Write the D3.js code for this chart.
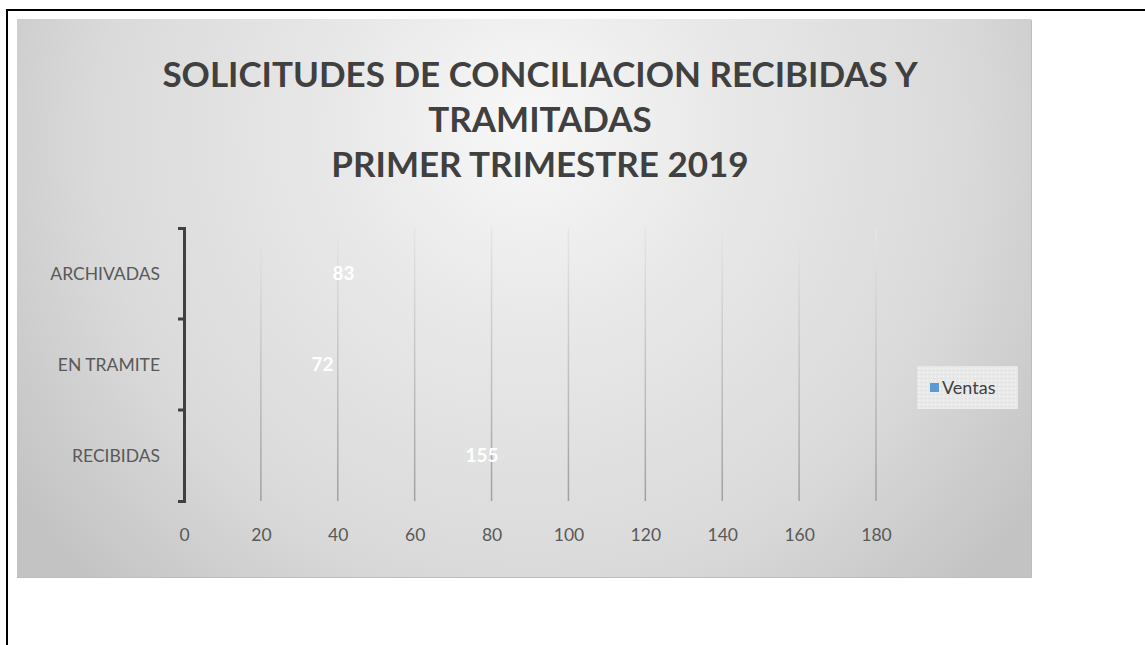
<!DOCTYPE html>
<html>
<head>
<meta charset="utf-8">
<script src="https://cdn.jsdelivr.net/npm/d3@7"></script>
<style>
  html, body { margin: 0; padding: 0; background: #fff; }
  svg { display: block; }
</style>
</head>
<body>
<svg id="chart" width="1145" height="645"></svg>
<script>
// data
const categories = ["RECIBIDAS", "EN TRAMITE", "ARCHIVADAS"];
const values = [155, 72, 83];
const xTicks = [0, 20, 40, 60, 80, 100, 120, 140, 160, 180];
const titleLines = ["SOLICITUDES DE CONCILIACION RECIBIDAS Y", "TRAMITADAS", "PRIMER TRIMESTRE 2019"];
const seriesName = "Ventas";

const FONT = "Lato, 'Open Sans', sans-serif";
const svg = d3.select("#chart");
const defs = svg.append("defs");

// page frame
svg.append("path")
  .attr("d", "M7,1200 L7,10 L1200,10")
  .attr("fill", "none")
  .attr("stroke", "#000")
  .attr("stroke-width", 2);

// panel background
const bg = defs.append("radialGradient")
  .attr("id", "panelGrad")
  .attr("gradientUnits", "userSpaceOnUse")
  .attr("cx", 530).attr("cy", 150).attr("r", 620)
  .attr("fx", 530).attr("fy", 120);
bg.append("stop").attr("offset", "0%").attr("stop-color", "#f8f8f8");
bg.append("stop").attr("offset", "30%").attr("stop-color", "#e9e9e9");
bg.append("stop").attr("offset", "70%").attr("stop-color", "#dadada");
bg.append("stop").attr("offset", "100%").attr("stop-color", "#c3c3c3");

const panel = { x: 17, y: 19, w: 1014, h: 558 };
svg.append("rect")
  .attr("x", panel.x).attr("y", panel.y + 1)
  .attr("width", panel.w + 1).attr("height", panel.h)
  .attr("fill", "#bdbdbd");
svg.append("rect")
  .attr("x", panel.x).attr("y", panel.y)
  .attr("width", panel.w).attr("height", panel.h)
  .attr("fill", "url(#panelGrad)");

// title
const title = svg.append("text")
  .attr("text-anchor", "middle")
  .attr("font-family", FONT)
  .attr("font-weight", "bold")
  .attr("font-size", 35)
  .attr("fill", "#404040");
titleLines.forEach((t, i) => {
  title.append("tspan").attr("x", 540).attr("y", 87 + i * 45).text(t);
});

// scales
const margin = { left: 184, right: 876, top: 228, bottom: 501 };
const x = d3.scaleLinear().domain([0, 180]).range([margin.left, margin.right]);
const y = d3.scaleBand().domain(categories).range([margin.bottom, margin.top]).paddingInner(0.5).paddingOuter(0.25);
const yBand = d3.scaleBand().domain(categories).range([margin.bottom, margin.top]);

// gridlines
const gridGrad = defs.append("linearGradient")
  .attr("id", "gridGrad")
  .attr("gradientUnits", "userSpaceOnUse")
  .attr("x1", 0).attr("y1", margin.top).attr("x2", 0).attr("y2", margin.bottom);
gridGrad.append("stop").attr("offset", "0%").attr("stop-color", "#e6e6e6");
gridGrad.append("stop").attr("offset", "100%").attr("stop-color", "#a0a0a0");

svg.append("g")
  .selectAll("rect")
  .data(xTicks.slice(1))
  .join("rect")
  .attr("x", d => x(d) - 0.75)
  .attr("y", margin.top)
  .attr("width", 1.5)
  .attr("height", margin.bottom - margin.top)
  .attr("fill", "url(#gridGrad)");

// bars (no visible fill in the original)
svg.append("g")
  .selectAll("rect")
  .data(values)
  .join("rect")
  .attr("x", x(0))
  .attr("y", (d, i) => y(categories[i]))
  .attr("width", d => x(d) - x(0))
  .attr("height", y.bandwidth())
  .attr("fill", "#ffffff")
  .attr("fill-opacity", 0);

// data labels
svg.append("g")
  .selectAll("text")
  .data(values)
  .join("text")
  .attr("x", d => x(d / 2))
  .attr("y", (d, i) => yBand(categories[i]) + yBand.bandwidth() / 2)
  .attr("dy", "0.35em")
  .attr("text-anchor", "middle")
  .attr("font-family", FONT)
  .attr("font-weight", "bold")
  .attr("font-size", 19)
  .attr("fill", "#ffffff")
  .text(d => d);

// y axis
const yAxis = svg.append("g")
  .attr("transform", `translate(${margin.left},0)`)
  .call(d3.axisLeft(yBand).tickValues([]).tickSizeOuter(6));
yAxis.select(".domain").attr("stroke", "#404040").attr("stroke-width", 3);
yAxis.selectAll(".tick").remove();
svg.append("g")
  .selectAll("line")
  .data(yBand.domain().slice(1))
  .join("line")
  .attr("x1", margin.left - 6).attr("x2", margin.left)
  .attr("y1", d => yBand(d) + yBand.bandwidth())
  .attr("y2", d => yBand(d) + yBand.bandwidth())
  .attr("stroke", "#404040").attr("stroke-width", 3);

svg.append("g")
  .selectAll("text")
  .data(categories)
  .join("text")
  .attr("x", 160)
  .attr("y", d => yBand(d) + yBand.bandwidth() / 2)
  .attr("dy", "0.35em")
  .attr("text-anchor", "end")
  .attr("font-family", FONT)
  .attr("font-size", 17.5)
  .attr("fill", "#595959")
  .text(d => d);

// x axis labels
const xAxis = svg.append("g")
  .attr("transform", `translate(0,${margin.bottom})`)
  .call(d3.axisBottom(x).tickValues(xTicks).tickSize(0).tickPadding(28));
xAxis.select(".domain").remove();
xAxis.selectAll("text")
  .attr("font-family", FONT)
  .attr("font-size", 17.5)
  .attr("fill", "#595959");

// legend
const pat = defs.append("pattern")
  .attr("id", "legendPat")
  .attr("patternUnits", "userSpaceOnUse")
  .attr("width", 4).attr("height", 4);
pat.append("rect").attr("width", 4).attr("height", 4).attr("fill", "#e9e9e9");
pat.append("rect").attr("width", 1).attr("height", 1).attr("fill", "#dadada");
pat.append("rect").attr("x", 2).attr("y", 2).attr("width", 1).attr("height", 1).attr("fill", "#f4f4f4");

const legend = svg.append("g").attr("transform", "translate(917,366)");
legend.append("rect").attr("width", 101).attr("height", 43).attr("fill", "url(#legendPat)");
legend.append("rect")
  .attr("x", 13).attr("y", 17).attr("width", 9).attr("height", 9)
  .attr("fill", "#5b9bd5");
legend.append("text")
  .attr("x", 25).attr("y", 22)
  .attr("dy", "0.35em")
  .attr("font-family", FONT)
  .attr("font-size", 18)
  .attr("fill", "#404040")
  .text(seriesName);
</script>
</body>
</html>
